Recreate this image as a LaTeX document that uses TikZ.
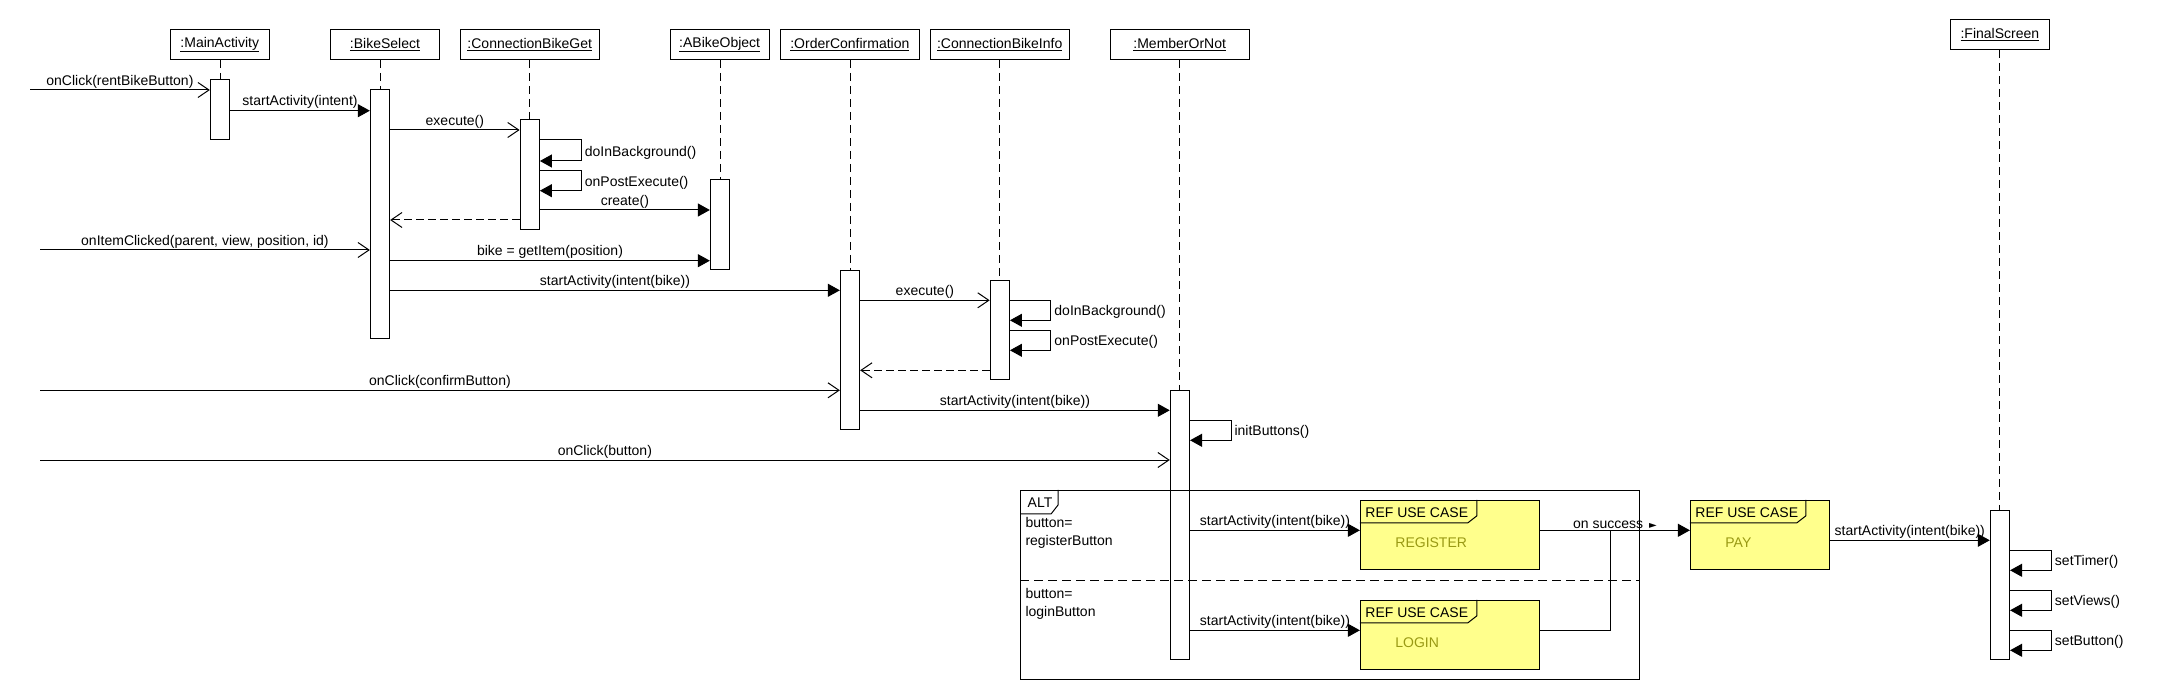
\documentclass[tikz,border=0pt]{standalone}
\usepackage{fontspec}
\setmainfont{Liberation Sans}
\newfontfamily\symfont{DejaVu Sans}
\usetikzlibrary{arrows.meta,calc}
\definecolor{refyellow}{RGB}{255,255,140}
\definecolor{refolive}{RGB}{153,153,20}

\begin{document}
\begin{tikzpicture}[
    x=1pt, y=-1pt,
    font=\fontsize{14}{17.5}\selectfont,
    line width=1pt,
    obj/.style={rectangle, draw, minimum height=29.3pt, inner sep=0pt},
    act/.style={rectangle, draw, fill=white, minimum width=19.3pt, inner sep=0pt},
    life/.style={dash pattern=on 8pt off 5pt},
    sync/.style={-{Triangle[length=12pt, width=13pt]}},
    async/.style={-{Straight Barb[length=11pt, width=15pt]}},
    ret/.style={async, dash pattern=on 8pt off 4pt},
    sep/.style={dash pattern=on 9pt off 5pt},
    lbl/.style={above, inner sep=1.5pt},
    slbl/.style={right, inner sep=3pt, yshift=-2pt},
    refuc/.style={rectangle, draw, fill=refyellow, inner sep=0pt, minimum height=69pt},
    tabtxt/.style={anchor=base west, inner sep=0pt},
    reftxt/.style={tabtxt, text=refolive},
    guard/.style={anchor=north west, align=left, inner sep=0pt}
  ]

  \path[fill=white, use as bounding box] (0,0) rectangle (2160,700);

  \node[obj, minimum width=99.5pt]  (ma)  at (219.75,44.65)  {\underline{:MainActivity}};
  \node[obj, minimum width=108.8pt] (bs)  at (385,44.65)     {\underline{:BikeSelect}};
  \node[obj, minimum width=138.5pt] (cbg) at (529.75,44.65)  {\underline{:ConnectionBikeGet}};
  \node[obj, minimum width=98.7pt]  (abo) at (719.65,44.65)  {\underline{:ABikeObject}};
  \node[obj, minimum width=139.7pt] (oc)  at (849.85,44.65)  {\underline{:OrderConfirmation}};
  \node[obj, minimum width=139.4pt] (cbi) at (999.7,44.65)   {\underline{:ConnectionBikeInfo}};
  \node[obj, minimum width=139.4pt] (mon) at (1179.7,44.65)  {\underline{:MemberOrNot}};
  \node[obj, minimum width=98.9pt]  (fs)  at (1999.85,34.65) {\underline{:FinalScreen}};

  \node[act, minimum height=59.3pt]  (maact)  at (220,109.65)   {};
  \node[act, minimum height=249pt]   (bsact)  at (380,214.5)    {};
  \node[act, minimum height=109.3pt] (cbgact) at (529.75,174.65) {};
  \node[act, minimum height=89.3pt]  (aboact) at (720,224.65)   {};
  \node[act, minimum height=159pt]   (ocact)  at (850,349.8)    {};
  \node[act, minimum height=99pt]    (cbiact) at (999.8,329.8)  {};
  \node[act, minimum height=269pt]   (monact) at (1179.9,524.8) {};
  \node[act, minimum height=149pt]   (fsact)  at (1999.9,584.8) {};

  \draw[life] (maact.north |- ma.south) -- (maact.north);
  \draw[life] (bsact.north |- bs.south) -- (bsact.north);
  \draw[life] (cbgact.north |- cbg.south) -- (cbgact.north);
  \draw[life] (aboact.north |- abo.south) -- (aboact.north);
  \draw[life] (ocact.north |- oc.south) -- (ocact.north);
  \draw[life] (cbiact.north |- cbi.south) -- (cbiact.north);
  \draw[life] (monact.north |- mon.south) -- (monact.north);
  \draw[life] (fsact.north |- fs.south) -- (fsact.north);

  \coordinate (ext1) at (30,90);
  \coordinate (ext2) at (40,250);
  \coordinate (ext3) at (40,390.3);
  \coordinate (ext4) at (40,460);

  \draw[async] (ext1) -- node[lbl]{onClick(rentBikeButton)} (maact.west |- ext1);
  \draw[sync] (maact.east |- 0,110.7) -- node[lbl]{startActivity(intent)} (bsact.west |- 0,110.7);
  \draw[async] (bsact.east |- 0,130) -- node[lbl]{execute()} (cbgact.west |- 0,130);
  \draw[sync] (cbgact.east |- 0,140) -- ++(41.5,0) -- node[slbl]{doInBackground()} ++(0,21) -- (cbgact.east |- 0,161);
  \draw[sync] (cbgact.east |- 0,170.7) -- ++(41.5,0) -- node[slbl]{onPostExecute()} ++(0,20) -- (cbgact.east |- 0,190.7);
  \draw[sync] (cbgact.east |- 0,210) -- node[lbl]{create()} (aboact.west |- 0,210);
  \draw[ret] (cbgact.west |- 0,220) -- (bsact.east |- 0,220);
  \draw[async] (ext2) -- node[lbl]{onItemClicked(parent, view, position, id)} (bsact.west |- ext2);
  \draw[sync] (bsact.east |- 0,260.7) -- node[lbl]{bike = getItem(position)} (aboact.west |- 0,260.7);
  \draw[sync] (bsact.east |- 0,290.3) -- node[lbl]{startActivity(intent(bike))} (ocact.west |- 0,290.3);
  \draw[async] (ocact.east |- 0,300.3) -- node[lbl]{execute()} (cbiact.west |- 0,300.3);
  \draw[sync] (cbiact.east |- 0,300.3) -- ++(41,0) -- node[slbl]{doInBackground()} ++(0,20) -- (cbiact.east |- 0,320.3);
  \draw[sync] (cbiact.east |- 0,330.3) -- ++(41,0) -- node[slbl]{onPostExecute()} ++(0,20) -- (cbiact.east |- 0,350.3);
  \draw[ret] (cbiact.west |- 0,370.3) -- (ocact.east |- 0,370.3);
  \draw[async] (ext3) -- node[lbl]{onClick(confirmButton)} (ocact.west |- ext3);
  \draw[sync] (ocact.east |- 0,410.3) -- node[lbl]{startActivity(intent(bike))} (monact.west |- 0,410.3);
  \draw[sync] (monact.east |- 0,420.3) -- ++(41,0) -- node[slbl]{initButtons()} ++(0,20) -- (monact.east |- 0,440.3);
  \draw[async] (ext4) -- node[lbl]{onClick(button)} (monact.west |- ext4);

  % alternative fragment
  \node[draw, minimum width=618.9pt, minimum height=188.7pt, inner sep=0pt] (alt) at (1330.15,584.65) {};
  \draw[sep] (alt.west |- 0,580.3) -- (alt.east |- 0,580.3);
  \draw (alt.north west) ++(38,0) -- ++(0,15) -- ++(-7,9) -- ($(alt.north west)+(0,24)$);
  \node[tabtxt] (altlbl) at ($(alt.north west)+(7,18)$) {ALT};
  \node[guard] (g1) at (1025,517) {button=\\registerButton};
  \node[guard] (g2) at (1025,588) {button=\\loginButton};

  % referenced use cases
  \node[refuc, minimum width=179.1pt] (reg)   at (1449.95,534.8) {};
  \node[refuc, minimum width=179.1pt] (login) at (1449.95,634.8) {};
  \node[refuc, minimum width=138.9pt] (pay)   at (1759.85,534.8) {};

  \draw (reg.north west) ++(117,0) -- ++(0,16) -- ++(-9,7) -- ($(reg.north west)+(0,23)$);
  \draw (login.north west) ++(117,0) -- ++(0,16) -- ++(-9,7) -- ($(login.north west)+(0,23)$);
  \draw (pay.north west) ++(116,0) -- ++(0,16) -- ++(-9,7) -- ($(pay.north west)+(0,23)$);
  \node[tabtxt] (regtab)   at ($(reg.north west)+(5,18)$)   {REF USE CASE};
  \node[tabtxt] (logintab) at ($(login.north west)+(5,18)$) {REF USE CASE};
  \node[tabtxt] (paytab)   at ($(pay.north west)+(5,18)$)   {REF USE CASE};
  \node[reftxt] (regtxt)   at ($(reg.north west)+(35,48)$)   {REGISTER};
  \node[reftxt] (logintxt) at ($(login.north west)+(35,48)$) {LOGIN};
  \node[reftxt] (paytxt)   at ($(pay.north west)+(35,48)$)   {PAY};

  \coordinate (join) at (1610.6,530.3);
  \draw[sync] (monact.east |- 0,530.3) -- node[lbl]{startActivity(intent(bike))} (reg.west |- 0,530.3);
  \draw[sync] (monact.east |- 0,630.3) -- node[lbl]{startActivity(intent(bike))} (login.west |- 0,630.3);
  \draw[sync] (reg.east |- join) -- node[lbl]{on success\hspace{6pt}{\symfont\fontsize{10}{10}\selectfont ►}} (pay.west |- join);
  \draw (login.east |- 0,630.3) -| (join);
  \draw[sync] (pay.east |- 0,540.3) -- node[lbl]{startActivity(intent(bike))} (fsact.west |- 0,540.3);

  \draw[sync] (fsact.east |- 0,550.3) -- ++(41.4,0) -- node[slbl]{setTimer()} ++(0,20) -- (fsact.east |- 0,570.3);
  \draw[sync] (fsact.east |- 0,590.3) -- ++(41.4,0) -- node[slbl]{setViews()} ++(0,20) -- (fsact.east |- 0,610.3);
  \draw[sync] (fsact.east |- 0,630.3) -- ++(41.4,0) -- node[slbl]{setButton()} ++(0,20) -- (fsact.east |- 0,650.3);
\end{tikzpicture}
\end{document}
